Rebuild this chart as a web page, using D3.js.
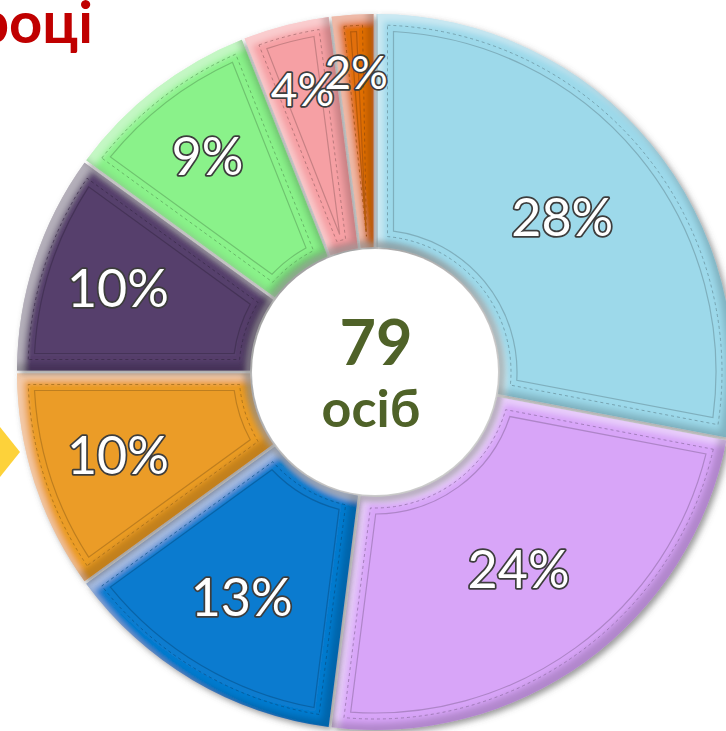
<!DOCTYPE html>
<html lang="uk">
<head>
    <meta charset="UTF-8">
    <title>Doughnut</title>
    <script src="https://cdn.jsdelivr.net/npm/d3@7"></script>
    <style>
        body { margin: 0; background: #fff; }
        svg { display: block; }
    </style>
</head>
<body>
<script>
    // data
    const shares = [28, 24, 13, 10, 10, 9, 4, 2]
    const shareLabels = shares.map(d => d + '%')
    const palette = ['#9dd9ea', '#d8a5f8', '#0b7bcf', '#eb9c27', '#563f6c', '#8af28a', '#f6a0a4', '#e26f0c']
    const total = 79
    const unit = 'осіб'
    const title = 'році'

    const [width, height] = [726, 731]
    const [cx, cy] = [375, 372]
    const [rInner, rOuter] = [125, 358]

    const svg = d3.select('body')
        .append('svg')
            .attr('width', width)
            .attr('height', height)

    const defs = svg.append('defs')

    // bevel + drop shadow for the slices
    const bevel = defs.append('filter').attr('id', 'bevel')
        .attr('x', '-10%').attr('y', '-10%').attr('width', '120%').attr('height', '120%')
    bevel.html(`
        <feGaussianBlur in="SourceAlpha" stdDeviation="3" result="sblur"/>
        <feOffset in="sblur" dx="3" dy="3" result="soff"/>
        <feFlood flood-color="#555" flood-opacity="0.6"/>
        <feComposite in2="soff" operator="in" result="drop"/>
        <feOffset in="SourceAlpha" dx="7" dy="7" result="o1"/>
        <feGaussianBlur in="o1" stdDeviation="3" result="b1"/>
        <feComposite in="SourceAlpha" in2="b1" operator="out" result="hl"/>
        <feFlood flood-color="#fff" flood-opacity="0.4"/>
        <feComposite in2="hl" operator="in" result="hlc"/>
        <feOffset in="SourceAlpha" dx="-7" dy="-7" result="o2"/>
        <feGaussianBlur in="o2" stdDeviation="3" result="b2"/>
        <feComposite in="SourceAlpha" in2="b2" operator="out" result="sh"/>
        <feFlood flood-color="#000" flood-opacity="0.35"/>
        <feComposite in2="sh" operator="in" result="shc"/>
        <feMerge>
            <feMergeNode in="drop"/>
            <feMergeNode in="SourceGraphic"/>
            <feMergeNode in="hlc"/>
            <feMergeNode in="shc"/>
        </feMerge>`)

    const holeShadow = defs.append('filter').attr('id', 'hole-shadow')
        .attr('x', '-20%').attr('y', '-20%').attr('width', '140%').attr('height', '140%')
    holeShadow.append('feGaussianBlur').attr('stdDeviation', 3)

    // yellow pointer on the left edge
    svg.append('polygon')
        .attr('points', '0,427 20,452 0,477')
        .attr('fill', '#fdd23a')

    // title fragment, cut by the left edge
    svg.append('text')
        .attr('x', 93)
        .attr('y', 43)
        .attr('text-anchor', 'end')
        .attr('font-family', 'Lato, "Open Sans", sans-serif')
        .attr('font-weight', 700)
        .attr('font-size', 58)
        .attr('fill', '#c00000')
        .text(title)

    const color = d3.scaleOrdinal().domain(d3.range(shares.length)).range(palette)
    const arcs = d3.pie().sort(null).value(d => d)(shares)

    const gap = 3
    const arc = d3.arc()
        .innerRadius(rInner)
        .outerRadius(rOuter)
        .padRadius(rOuter)
        .padAngle(gap / rOuter)
    const inset = d => d3.arc()
        .innerRadius(rInner + d)
        .outerRadius(rOuter - d)
        .padRadius(rOuter)
        .padAngle((gap + 2 * d) / rOuter)

    const g = svg.append('g').attr('transform', `translate(${cx}, ${cy})`)

    const slice = g.selectAll('g.slice')
        .data(arcs)
        .join('g')
            .attr('class', 'slice')

    slice.append('path')
        .attr('d', arc)
        .attr('fill', (d, i) => color(i))
        .attr('filter', 'url(#bevel)')

    // stitched line inside the bevel
    slice.append('path')
        .attr('d', inset(11))
        .attr('fill', 'none')
        .attr('stroke', (d, i) => d3.color(color(i)).darker(1.2))
        .attr('stroke-width', 1)
        .attr('stroke-dasharray', '3,3')
        .attr('opacity', 0.7)

    // inner plate of the bevel
    slice.append('path')
        .attr('d', inset(17))
        .attr('fill', (d, i) => color(i))
        .attr('stroke', (d, i) => d3.color(color(i)).darker(0.6))
        .attr('stroke-width', 1.2)

    // white hole
    g.append('circle')
        .attr('r', rInner + 1)
        .attr('fill', 'none')
        .attr('stroke', '#9a9a9a')
        .attr('stroke-width', 5)
        .attr('filter', 'url(#hole-shadow)')
    g.append('circle')
        .attr('r', rInner - 2)
        .attr('fill', '#fff')

    g.append('text')
        .attr('x', 1)
        .attr('y', -7)
        .attr('text-anchor', 'middle')
        .attr('font-family', 'Lato, "Open Sans", sans-serif')
        .attr('font-weight', 700)
        .attr('font-size', 63)
        .attr('fill', '#4f6228')
        .text(total)
    g.append('text')
        .attr('x', -4)
        .attr('y', 55)
        .attr('text-anchor', 'middle')
        .attr('font-family', 'Lato, "Open Sans", sans-serif')
        .attr('font-weight', 700)
        .attr('font-size', 52)
        .attr('fill', '#4f6228')
        .text(unit)

    // percentage labels: small slices sit further out
    const labelR = d => {
        const p = (d.endAngle - d.startAngle) / (2 * Math.PI)
        return 243 + 843 * Math.pow(Math.max(0, 0.28 - p), 2)
    }
    slice.append('text')
        .attr('transform', d => {
            const a = (d.startAngle + d.endAngle) / 2
            const r = labelR(d)
            return `translate(${r * Math.sin(a)}, ${-r * Math.cos(a)})`
        })
        .attr('text-anchor', 'middle')
        .attr('dy', '0.36em')
        .attr('font-family', 'Lato, "Open Sans", sans-serif')
        .attr('font-size', d => d.value < 5 ? 46 : 52)
        .attr('fill', '#fff')
        .attr('stroke', '#3d3d3d')
        .attr('stroke-width', 3.5)
        .attr('stroke-linejoin', 'round')
        .attr('paint-order', 'stroke')
        .text((d, i) => shareLabels[i])
</script>
</body>
</html>
